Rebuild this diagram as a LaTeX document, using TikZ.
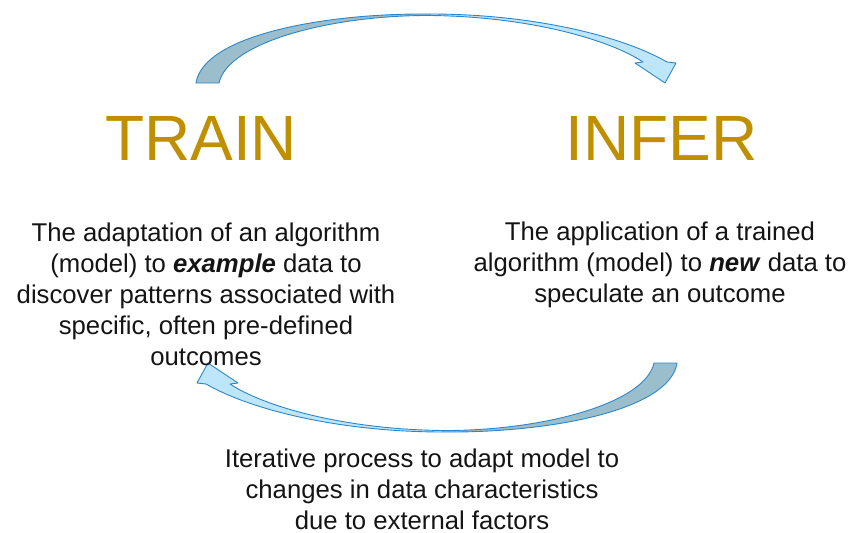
\documentclass[tikz,border=0pt]{standalone}
\usepackage{fontspec}
\setmainfont{Liberation Sans}
\definecolor{gold}{RGB}{191,143,0}
\definecolor{arrline}{RGB}{46,134,200}
\definecolor{arrdark}{RGB}{155,190,205}
\definecolor{arrlight}{RGB}{190,230,250}
\definecolor{txt}{RGB}{20,20,20}
\tikzset{
  title/.style={anchor=base, inner sep=0, text=gold, font=\fontsize{64}{70}\selectfont},
  body/.style={anchor=north, inner sep=0, align=center, text=txt, font=\fontsize{25.7}{31}\selectfont},
  darkband/.style={fill=arrdark, draw=arrline, line width=0.9pt, line join=round},
  lightband/.style={fill=arrlight, draw=arrline, line width=0.9pt, line join=round},
}
\newcommand{\curvedarrow}{%
  \fill[arrlight] (430,14) .. controls (530,14) and (620,35) .. (667,62)
     -- (676,63) -- (665,83) -- (635,63) -- (643,62)
     .. controls (610,40) and (530,16.5) .. (430,15.5) -- cycle;
  \draw[lightband,fill=none] (430,14) .. controls (530,14) and (620,35) .. (667,62)
     -- (676,63) -- (665,83) -- (635,63) -- (643,62)
     .. controls (610,40) and (530,16.5) .. (430,15.5);
  \draw[darkband] (196,83) .. controls (203,36) and (322,13) .. (430,14)
     -- (430,15.5) .. controls (332,15) and (228,42) .. (219,83) -- cycle;
}
\begin{document}
\begin{tikzpicture}[x=1pt,y=-1pt]
\useasboundingbox (0,0) rectangle (852,533);
% top arrow
\curvedarrow
% bottom arrow (same shape turned half round)
\begin{scope}[rotate around={180:(436.5,223)}]
\curvedarrow
\end{scope}
\node[title] (train) at (201,160) {TRAIN};
\node[title] (infer) at (661.5,160) {INFER};
\node[body] (traintext) at (206,222.3) {The adaptation of an algorithm\\(model) to \textbf{\textit{example}} data to\\discover patterns associated with\\specific, often pre-defined\\outcomes};
\node[body] (infertext) at (660,221.3) {The application of a trained\\algorithm (model) to \textbf{\textit{new}} data to\\speculate an outcome};
\node[body] (itertext) at (422,449) {Iterative process to adapt model to\\changes in data characteristics\\due to external factors};
\end{tikzpicture}
\end{document}
